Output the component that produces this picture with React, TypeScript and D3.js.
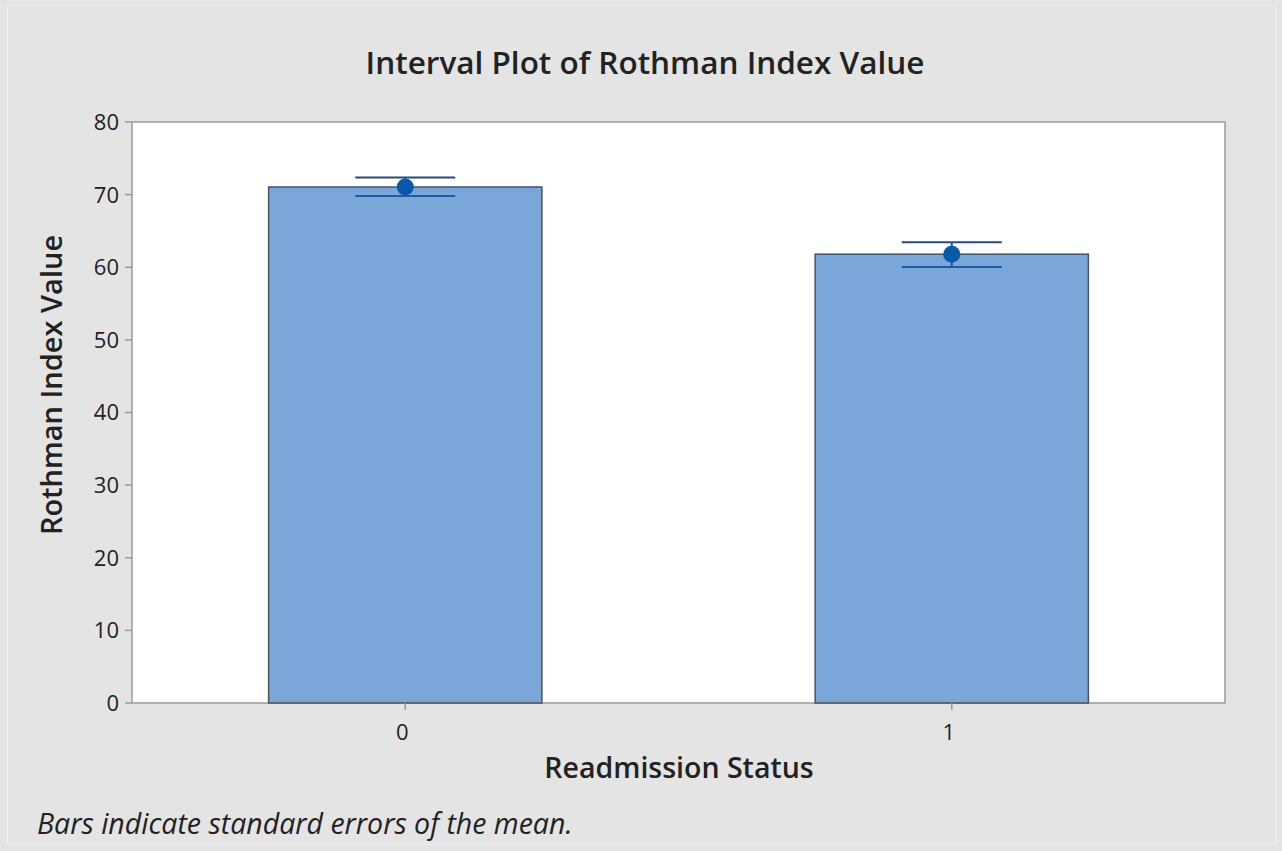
import React, { useEffect, useRef } from "react";
import * as d3 from "d3";

// Readmission status groups and their Rothman Index means / standard errors
const categories = ["0", "1"];
const means = [71.05, 61.8];
const upperErr = [72.35, 63.45];
const lowerErr = [69.8, 60.05];
const yTicks = [0, 10, 20, 30, 40, 50, 60, 70, 80];

const App = () => {
  const svgRef = useRef<SVGSVGElement>(null);

  useEffect(() => {
    const width = 1282;
    const height = 851;
    const plot = { left: 132, right: 1225, top: 122, bottom: 703 };
    const font = "'Open Sans', 'Noto Sans', sans-serif";

    const svg = d3.select(svgRef.current);
    svg.selectAll("*").remove();
    svg.attr("width", width).attr("height", height);

    // page background + faint outer frame
    svg.append("rect").attr("width", width).attr("height", height).attr("fill", "#e4e4e4");
    svg
      .append("rect")
      .attr("x", 7.5)
      .attr("y", 5.5)
      .attr("width", 1268)
      .attr("height", 839)
      .attr("fill", "none")
      .attr("stroke", "#eeeeee");

    const x = d3
      .scaleBand()
      .domain(categories)
      .range([plot.left, plot.right])
      .paddingInner(0.5)
      .paddingOuter(0.25);

    const y = d3.scaleLinear().domain([0, 80]).range([plot.bottom, plot.top]);

    // plot area
    svg
      .append("rect")
      .attr("x", plot.left)
      .attr("y", plot.top)
      .attr("width", plot.right - plot.left)
      .attr("height", plot.bottom - plot.top)
      .attr("fill", "#ffffff")
      .attr("stroke", "#9a9a9a")
      .attr("stroke-width", 1.5);

    // bars
    svg
      .selectAll(".bar")
      .data(categories)
      .enter()
      .append("rect")
      .attr("class", "bar")
      .attr("x", (d) => x(d)!)
      .attr("y", (d, i) => y(means[i]))
      .attr("width", x.bandwidth())
      .attr("height", (d, i) => y(0) - y(means[i]))
      .attr("fill", "#7ba6d9")
      .attr("stroke", "#4d5258")
      .attr("stroke-width", 1.5);

    // error bars
    const capHalf = 50;
    categories.forEach((c, i) => {
      const cx = x(c)! + x.bandwidth() / 2;
      const g = svg.append("g");
      g.append("line")
        .attr("x1", cx)
        .attr("x2", cx)
        .attr("y1", y(upperErr[i]))
        .attr("y2", y(lowerErr[i]))
        .attr("stroke", "#1f5aa6")
        .attr("stroke-width", 2);
      [upperErr[i], lowerErr[i]].forEach((v, k) => {
        g.append("line")
          .attr("x1", cx - capHalf)
          .attr("x2", cx + capHalf)
          .attr("y1", y(v))
          .attr("y2", y(v))
          .attr("stroke", k === 0 ? "#2b4a7c" : "#1f5aa6")
          .attr("stroke-width", 2);
      });
      g.append("circle")
        .attr("cx", cx)
        .attr("cy", y(means[i]))
        .attr("r", 8.5)
        .attr("fill", "#0a58aa");
    });

    // y axis ticks + labels
    const yAxis = svg.append("g");
    yTicks.forEach((t) => {
      yAxis
        .append("line")
        .attr("x1", plot.left - 7)
        .attr("x2", plot.left)
        .attr("y1", y(t))
        .attr("y2", y(t))
        .attr("stroke", "#9a9a9a")
        .attr("stroke-width", 1.5);
      yAxis
        .append("text")
        .attr("x", plot.left - 13)
        .attr("y", y(t))
        .attr("dy", "0.36em")
        .attr("text-anchor", "end")
        .style("font-family", font)
        .style("font-size", "22px")
        .style("fill", "#222")
        .text(t);
    });

    // x axis ticks + labels
    const xAxis = svg.append("g");
    categories.forEach((c) => {
      const cx = x(c)! + x.bandwidth() / 2;
      xAxis
        .append("line")
        .attr("x1", cx)
        .attr("x2", cx)
        .attr("y1", plot.bottom)
        .attr("y2", plot.bottom + 7)
        .attr("stroke", "#9a9a9a")
        .attr("stroke-width", 1.5);
      xAxis
        .append("text")
        .attr("x", cx - 3)
        .attr("y", plot.bottom + 37)
        .attr("text-anchor", "middle")
        .style("font-family", font)
        .style("font-size", "22px")
        .style("fill", "#222")
        .text(c);
    });

    // title
    svg
      .append("text")
      .attr("x", 645)
      .attr("y", 74)
      .attr("text-anchor", "middle")
      .style("font-family", font)
      .style("font-size", "31.5px")
      .style("font-weight", "600")
      .style("fill", "#222")
      .text("Interval Plot of Rothman Index Value");

    // axis titles
    svg
      .append("text")
      .attr("transform", `translate(62,385) rotate(-90)`)
      .attr("text-anchor", "middle")
      .style("font-family", font)
      .style("font-size", "29px")
      .style("font-weight", "600")
      .style("fill", "#222")
      .text("Rothman Index Value");

    svg
      .append("text")
      .attr("x", 679)
      .attr("y", 778)
      .attr("text-anchor", "middle")
      .style("font-family", font)
      .style("font-size", "28.5px")
      .style("font-weight", "600")
      .style("fill", "#222")
      .text("Readmission Status");

    // footnote
    svg
      .append("text")
      .attr("x", 37)
      .attr("y", 834)
      .style("font-family", font)
      .style("font-size", "28.5px")
      .style("font-style", "italic")
      .style("fill", "#222")
      .text("Bars indicate standard errors of the mean.");
  }, []);

  return (
    <svg
      ref={svgRef}
      style={{ position: "absolute", left: 0, top: 0, display: "block" }}
    />
  );
};

export default App;
